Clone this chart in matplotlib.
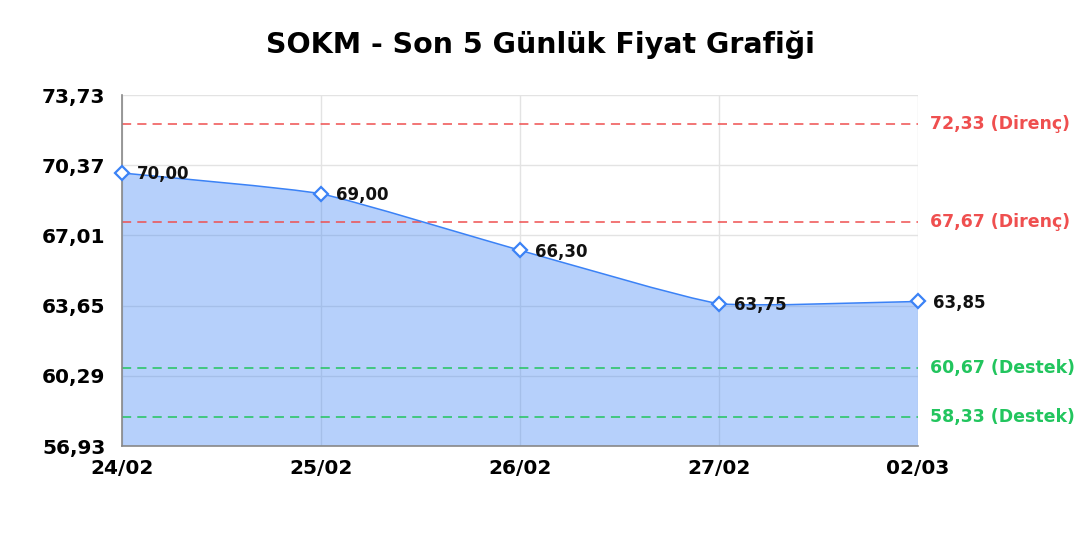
import matplotlib
matplotlib.use("Agg")
import matplotlib.pyplot as plt
from matplotlib.path import Path
from matplotlib.patches import PathPatch
import numpy as np

plt.rcParams['font.family'] = ['DejaVu Sans']

dates = ["24/02", "25/02", "26/02", "27/02", "02/03"]
prices = [70.00, 69.00, 66.30, 63.75, 63.85]
resistance = [72.33, 67.67]
support = [60.67, 58.33]
yticks = [56.93, 60.29, 63.65, 67.01, 70.37, 73.73]
title = "SOKM - Son 5 Günlük Fiyat Grafiği"

def fmt(v):
    return f"{v:.2f}".replace(".", ",")

fig = plt.figure(figsize=(10.8, 5.4), dpi=100)
ax = fig.add_axes([0.113, 0.174, 0.737, 0.650])
x = np.arange(len(dates))
ymin, ymax = yticks[0], yticks[-1]
ax.set_xlim(0, len(dates) - 1)
ax.set_ylim(ymin, ymax)

# Chart.js-like spline (tension) computed in display space
tension = 0.15
pts = ax.transData.transform(np.column_stack([x, prices]))
inv = ax.transData.inverted()
n = len(pts)
cp_prev = pts.copy()
cp_next = pts.copy()
for i in range(n):
    p0 = pts[max(i - 1, 0)]
    p1 = pts[i]
    p2 = pts[min(i + 1, n - 1)]
    d01 = np.hypot(*(p1 - p0))
    d12 = np.hypot(*(p2 - p1))
    tot = d01 + d12
    s01 = d01 / tot if tot else 0
    s12 = d12 / tot if tot else 0
    cp_prev[i] = p1 - tension * s01 * (p2 - p0)
    cp_next[i] = p1 + tension * s12 * (p2 - p0)
disp_verts = [pts[0]]
codes = [Path.MOVETO]
for i in range(n - 1):
    disp_verts += [cp_next[i], cp_prev[i + 1], pts[i + 1]]
    codes += [Path.CURVE4] * 3
verts = [tuple(v) for v in inv.transform(np.array(disp_verts))]
line_path = Path(verts, codes)
fill_verts = verts + [(x[-1], ymin), (x[0], ymin), (x[0], prices[0])]
fill_codes = codes + [Path.LINETO, Path.LINETO, Path.CLOSEPOLY]
ax.add_patch(PathPatch(Path(fill_verts, fill_codes), facecolor="#3b82f6", alpha=0.37,
                       edgecolor="none", zorder=1))
ax.add_patch(PathPatch(line_path, facecolor="none", edgecolor="#3b82f6", lw=1.1, zorder=3))
ax.plot(x, prices, linestyle="none", marker="D", markersize=7, markerfacecolor="white",
        markeredgecolor="#3b82f6", markeredgewidth=1.6, zorder=4, clip_on=False)
for xi, yi in zip(x, prices):
    ax.annotate(fmt(yi), (xi, yi), xytext=(11, -1), textcoords="offset points",
                ha="left", va="center", fontsize=12, fontweight="bold", color="#111111", zorder=5)

red = "#ef4f4f"
green = "#22c55e"
for r in resistance:
    ax.axhline(r, color=red, lw=1.1, ls=(0, (6, 4)), zorder=2)
    ax.text(1.015, r, f"{fmt(r)} (Direnç)", transform=ax.get_yaxis_transform(),
            color=red, fontsize=12.5, fontweight="bold", va="center", ha="left")
for s_ in support:
    ax.axhline(s_, color=green, lw=1.1, ls=(0, (6, 4)), zorder=2)
    ax.text(1.015, s_, f"{fmt(s_)} (Destek)", transform=ax.get_yaxis_transform(),
            color=green, fontsize=12.5, fontweight="bold", va="center", ha="left")

ax.set_xticks(x)
ax.set_xticklabels(dates, fontsize=14.5, fontweight="bold")
ax.set_yticks(yticks)
ax.set_yticklabels([fmt(v) for v in yticks], fontsize=14.5, fontweight="bold")
ax.tick_params(length=0)
ax.tick_params(axis="x", pad=9)
ax.tick_params(axis="y", pad=12)
ax.grid(True, color="#e3e3e3", lw=1, zorder=0)
ax.set_axisbelow(True)
for sp in ["top", "right"]:
    ax.spines[sp].set_visible(False)
for sp in ["left", "bottom"]:
    ax.spines[sp].set_color("#888888")
    ax.spines[sp].set_linewidth(1.2)

fig.text(0.5, 0.918, title, ha="center", va="center", fontsize=20.5, fontweight="bold")
fig.savefig("out.png", dpi=100)
